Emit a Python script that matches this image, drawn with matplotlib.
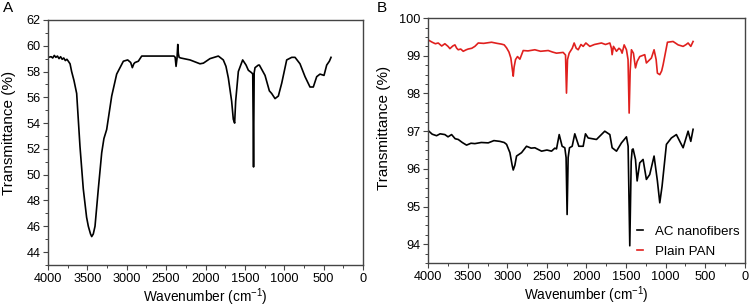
import matplotlib
matplotlib.use("Agg")
import matplotlib.pyplot as plt
from matplotlib.ticker import MultipleLocator

plt.rcParams['font.family'] = ['Liberation Sans', 'DejaVu Sans']
plt.rcParams['mathtext.fontset'] = 'custom'
plt.rcParams['mathtext.rm'] = 'Liberation Sans'
plt.rcParams['mathtext.it'] = 'Liberation Sans'

# ---- Panel A data ----
a_wn = [4000, 3960, 3940, 3920, 3900, 3880, 3860, 3840, 3820, 3800, 3780, 3760, 3742,
        3720, 3700, 3670, 3636, 3594, 3552, 3510, 3488, 3460, 3445, 3425, 3403, 3361,
        3318, 3290, 3255, 3191, 3128, 3043, 2988, 2950, 2929, 2910, 2895, 2853, 2810,
        2700, 2500, 2400, 2385, 2374, 2362, 2352, 2345, 2335, 2315, 2197, 2070, 2027,
        1943, 1837, 1774, 1740, 1710, 1668, 1647, 1630, 1617, 1583, 1528, 1485, 1456,
        1413, 1400, 1390, 1382, 1371, 1329, 1316, 1244, 1189, 1160, 1117, 1075, 1032,
        969, 905, 863, 800, 736, 673, 631, 588, 546, 495, 461, 427, 406]
a_val = [59.1, 59.15, 59.05, 59.25, 59.1, 59.2, 59.0, 59.15, 58.95, 59.05, 58.85, 58.95, 58.8,
         58.6, 58.0, 57.3, 56.3, 52.2, 48.9, 46.7, 46.0, 45.4, 45.2, 45.4, 46.0, 48.9,
         51.7, 52.8, 53.5, 56.1, 57.8, 58.8, 58.9, 58.7, 58.3, 58.6, 58.7, 58.8, 59.2,
         59.2, 59.2, 59.2, 59.1, 58.4, 59.0, 60.1, 59.4, 59.1, 59.05, 58.9, 58.6, 58.65,
         59.0, 59.2, 58.9, 58.4, 57.5, 55.7, 54.3, 54.0, 55.7, 58.0, 58.9, 58.5, 58.1,
         57.9, 57.8, 50.6, 57.9, 58.3, 58.5, 58.5, 57.7, 56.5, 56.3, 55.9, 56.1, 57.1,
         58.9, 59.1, 59.1, 58.6, 57.6, 56.8, 56.8, 57.6, 57.8, 57.7, 58.5, 58.8, 59.1]

# ---- Panel B data ----
pan_wn = [3992, 3950, 3910, 3874, 3830, 3790, 3750, 3726, 3690, 3663, 3640, 3621, 3590,
          3558, 3520, 3495, 3450, 3411, 3368, 3300, 3200, 3130, 3074, 3040, 3010, 2980,
          2956, 2935, 2926, 2915, 2897, 2872, 2842, 2800, 2740, 2653, 2580, 2484, 2430,
          2379, 2295, 2265, 2253, 2240, 2219, 2180, 2156, 2130, 2105, 2070, 2042, 2008,
          1958, 1900, 1811, 1760, 1705, 1685, 1676, 1659, 1621, 1590, 1567, 1550, 1524,
          1495, 1475, 1461, 1448, 1432, 1407, 1381, 1360, 1327, 1264, 1243, 1180, 1146,
          1120, 1104, 1074, 1050, 1032, 977, 906, 870, 842, 779, 740, 716, 682, 653]
pan_val = [99.41, 99.36, 99.32, 99.34, 99.26, 99.32, 99.25, 99.19, 99.26, 99.29, 99.2, 99.16, 99.18,
           99.12, 99.16, 99.18, 99.2, 99.25, 99.34, 99.33, 99.36, 99.33, 99.31, 99.29, 99.21, 99.1,
           98.94, 98.6, 98.46, 98.7, 98.9, 98.98, 98.91, 99.14, 99.13, 99.16, 99.12, 99.14, 99.1,
           99.07, 99.09, 99.02, 98.01, 98.9, 99.07, 99.2, 99.34, 99.2, 99.16, 99.3, 99.25, 99.34,
           99.25, 99.3, 99.34, 99.3, 99.34, 99.2, 99.03, 99.25, 99.12, 99.2, 99.16, 99.07, 99.29,
           99.16, 98.9, 97.48, 98.6, 99.16, 99.07, 98.68, 98.85, 98.98, 99.03, 98.81, 98.94, 99.16,
           98.9, 98.54, 98.5, 98.6, 98.76, 99.36, 99.38, 99.33, 99.29, 99.25, 99.3, 99.34, 99.25, 99.38]

ac_wn = [3992, 3950, 3895, 3850, 3790, 3750, 3705, 3660, 3621, 3570, 3516, 3460, 3411,
         3330, 3242, 3170, 3095, 3040, 3010, 2968, 2940, 2926, 2905, 2884, 2821, 2758,
         2700, 2653, 2568, 2500, 2442, 2400, 2379, 2345, 2308, 2274, 2258, 2245, 2232,
         2215, 2181, 2148, 2097, 2042, 2013, 1979, 1874, 1769, 1705, 1676, 1621, 1558,
         1495, 1474, 1453, 1435, 1423, 1411, 1381, 1360, 1327, 1285, 1243, 1201, 1146,
         1104, 1074, 1045, 990, 927, 864, 821, 779, 716, 682, 653]
ac_val = [97.0, 96.92, 96.88, 96.93, 96.91, 96.85, 96.91, 96.8, 96.78, 96.7, 96.63, 96.68, 96.67,
          96.7, 96.69, 96.75, 96.73, 96.7, 96.65, 96.43, 96.1, 95.97, 96.1, 96.34, 96.43, 96.6,
          96.55, 96.56, 96.47, 96.5, 96.47, 96.55, 96.53, 96.91, 96.6, 96.56, 96.3, 94.79, 96.3,
          96.56, 96.6, 96.93, 96.6, 96.6, 96.93, 96.82, 96.78, 97.0, 96.91, 96.56, 96.47, 96.69,
          96.85, 96.6, 93.96, 96.2, 96.51, 96.53, 96.25, 95.68, 96.16, 96.25, 95.72, 95.85, 96.34,
          95.68, 95.1, 95.54, 96.65, 96.82, 96.91, 96.73, 96.56, 97.0, 96.73, 97.05]

fig = plt.figure(figsize=(7.5, 3.07), dpi=100)
axA = fig.add_axes([0.064, 0.137, 0.42, 0.798])
axB = fig.add_axes([0.571, 0.143, 0.422, 0.798])

spine_col = '#444444'
for ax in (axA, axB):
    for s in ax.spines.values():
        s.set_color(spine_col)
        s.set_linewidth(1.0)
    ax.tick_params(axis='both', which='major', direction='out', length=3.5, width=0.8,
                   color=spine_col, labelsize=9.2, pad=2)
    ax.tick_params(axis='both', which='minor', direction='out', length=2, width=0.7,
                   color=spine_col)
    ax.set_xlim(4000, 0)
    ax.xaxis.set_major_locator(MultipleLocator(500))
    ax.xaxis.set_minor_locator(MultipleLocator(250))
    ax.set_xlabel(r'Wavenumber (cm$^{-1}$)', fontsize=9.8, labelpad=1.5)

axA.set_ylabel('Transmittance (%)', fontsize=11)
axA.yaxis.set_label_coords(-0.103, 0.54)
axB.set_ylabel('Transmittance (%)', fontsize=11)
axB.yaxis.set_label_coords(-0.118, 0.55)

axA.plot(a_wn, a_val, color='black', lw=1.2)
axA.set_ylim(43, 62)
axA.yaxis.set_major_locator(MultipleLocator(2))
axA.yaxis.set_minor_locator(MultipleLocator(1))

axB.plot(ac_wn, ac_val, color='black', lw=1.2, label='AC nanofibers')
axB.plot(pan_wn, pan_val, color='#e0201e', lw=1.2, label='Plain PAN')
axB.set_ylim(93.5, 100)
axB.yaxis.set_major_locator(MultipleLocator(1))
axB.yaxis.set_minor_locator(MultipleLocator(0.25))
axB.legend(loc='lower right', bbox_to_anchor=(1.0, 0.0), frameon=False, fontsize=9.6,
           handlelength=0.4, handletextpad=0.9, borderaxespad=0.0, labelspacing=0.55)

fig.text(0.004, 0.998, 'A', fontsize=11, va='top', ha='left')
fig.text(0.503, 0.998, 'B', fontsize=11, va='top', ha='left')

fig.savefig('out.png', dpi=100)
